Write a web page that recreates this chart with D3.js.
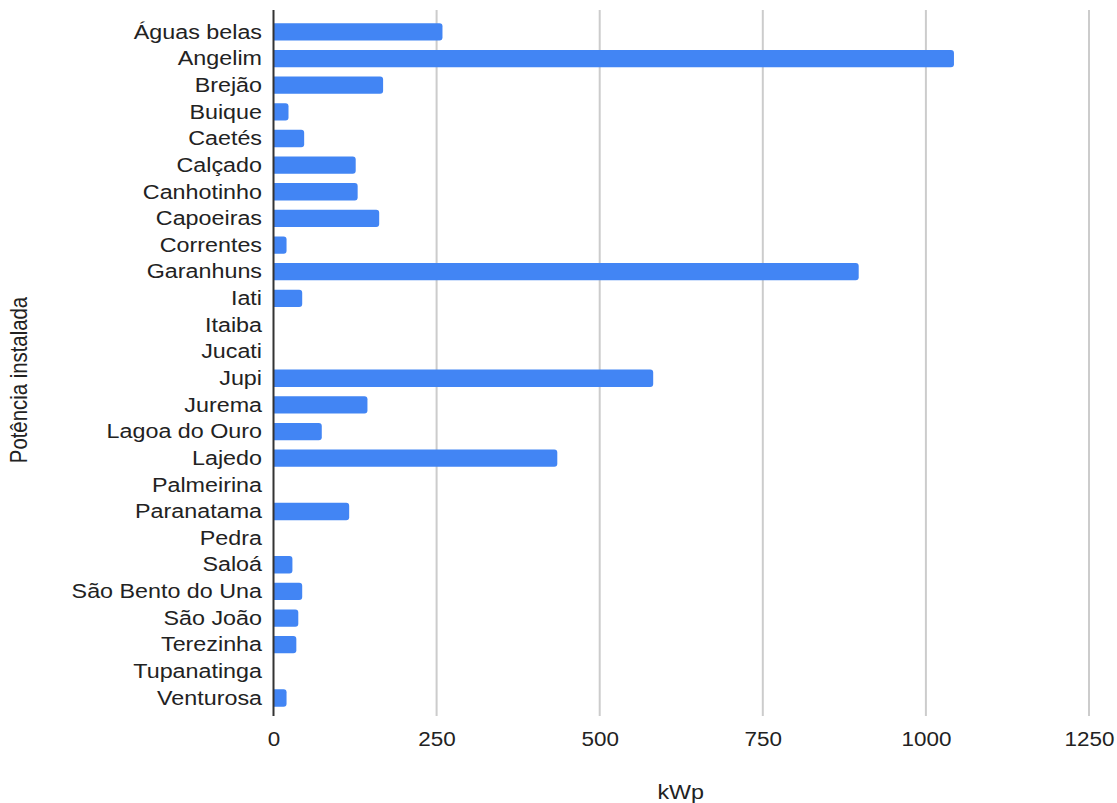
<!DOCTYPE html>
<html>
<head>
<meta charset="utf-8">
<script src="https://cdn.jsdelivr.net/npm/d3@7"></script>
<style>
  html, body { margin: 0; padding: 0; background: #fff; }
  svg { display: block; font-family: "Liberation Sans", Arial, sans-serif; }
</style>
</head>
<body>
<svg id="chart" width="1117" height="803"></svg>
<script>
// Municípios and their installed capacity (kWp)
const municipios = [
  "Águas belas", "Angelim", "Brejão", "Buique", "Caetés", "Calçado", "Canhotinho",
  "Capoeiras", "Correntes", "Garanhuns", "Iati", "Itaiba", "Jucati", "Jupi", "Jurema",
  "Lagoa do Ouro", "Lajedo", "Palmeirina", "Paranatama", "Pedra", "Saloá",
  "São Bento do Una", "São João", "Terezinha", "Tupanatinga", "Venturosa"
];
const potencia = [
  259, 1043, 168, 23, 47, 126, 129,
  162, 20, 897, 44, 0, 0, 582, 144,
  74, 435, 0, 116, 0, 29,
  44, 38, 35, 0, 20
];
const xTicks = [0, 250, 500, 750, 1000, 1250];
const xTitle = "kWp";
const yTitle = "Potência instalada";

const svg = d3.select("#chart");
const plotLeft = 273.5, plotRight = 1089, plotTop = 10, plotBottom = 716;
const fontSize = 21;
const stretch = 1.11;   // slightly wide lettering
const textColor = "#222222";

const x = d3.scaleLinear().domain([0, 1250]).range([plotLeft, plotRight]);
const y = d3.scaleBand().domain(municipios).range([18.6, 711.3]).paddingInner(0.35).paddingOuter(0.175);

// vertical gridlines
svg.append("g")
  .selectAll("line")
  .data(xTicks.filter(d => d > 0))
  .join("line")
  .attr("x1", d => x(d)).attr("x2", d => x(d))
  .attr("y1", plotTop).attr("y2", plotBottom)
  .attr("stroke", "#cccccc").attr("stroke-width", 2);

// bars: rounded on the value end only
const r = 3;
svg.append("g")
  .selectAll("path")
  .data(municipios.map((m, i) => ({ m, v: potencia[i] })).filter(d => d.v > 0))
  .join("path")
  .attr("fill", "#4285f4")
  .attr("d", d => {
    const x0 = x(0), x1 = x(d.v), y0 = y(d.m), h = y.bandwidth();
    const rr = Math.min(r, (x1 - x0) / 2);
    return `M${x0},${y0}H${x1 - rr}Q${x1},${y0} ${x1},${y0 + rr}V${y0 + h - rr}Q${x1},${y0 + h} ${x1 - rr},${y0 + h}H${x0}Z`;
  });

// baseline axis
svg.append("line")
  .attr("x1", x(0)).attr("x2", x(0))
  .attr("y1", plotTop).attr("y2", plotBottom)
  .attr("stroke", "#333333").attr("stroke-width", 2);

// category labels
const yAxis = d3.axisLeft(y).tickSize(0).tickPadding(0);
const gy = svg.append("g").attr("transform", `translate(${x(0)},0)`).call(yAxis);
gy.select(".domain").remove();
gy.selectAll("text")
  .attr("x", null)
  .attr("font-size", fontSize)
  .attr("font-family", "Liberation Sans, Arial, sans-serif")
  .attr("fill", textColor)
  .attr("transform", `translate(-11.5,0) scale(${stretch},1)`);

// value axis labels
const xAxis = d3.axisBottom(x).tickValues(xTicks).tickFormat(d3.format("d")).tickSize(0).tickPadding(0);
const gx = svg.append("g").attr("transform", `translate(0,${plotBottom})`).call(xAxis);
gx.select(".domain").remove();
gx.selectAll("text")
  .attr("y", null)
  .attr("dy", null)
  .attr("font-size", fontSize)
  .attr("font-family", "Liberation Sans, Arial, sans-serif")
  .attr("fill", textColor)
  .attr("transform", `translate(0,30) scale(1.07,1)`);

// axis titles
svg.append("text")
  .attr("transform", `translate(${(plotLeft + plotRight) / 2 - 0.5},799) scale(${stretch},1)`)
  .attr("text-anchor", "middle")
  .attr("font-size", fontSize).attr("fill", textColor)
  .text(xTitle);

svg.append("text")
  .attr("transform", `translate(27,380) rotate(-90) scale(0.97,${stretch})`)
  .attr("text-anchor", "middle")
  .attr("font-size", fontSize).attr("fill", textColor)
  .text(yTitle);
</script>
</body>
</html>
